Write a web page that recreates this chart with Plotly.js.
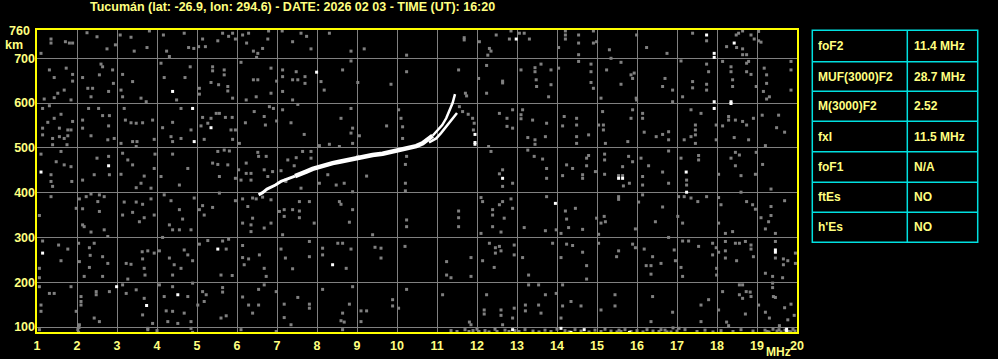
<!DOCTYPE html>
<html>
<head>
<meta charset="utf-8">
<script src="https://cdn.plot.ly/plotly-3.0.1.min.js"></script>
<style>html,body{margin:0;padding:0;background:#000;}#chart{width:998px;height:359px;}</style>
</head>
<body>
<div id="chart"></div>
<script>
// ---------- data ----------
const titleText = "Tucumán (lat: -26.9, lon: 294.6) - DATE: 2026 02 03 - TIME (UT): 16:20";
const freqTicks = [1,2,3,4,5,6,7,8,9,10,11,12,13,14,15,16,17,18,19,20];
const heightTicks = [100,200,300,400,500,600,700];
const tableLabels = ["foF2","MUF(3000)F2","M(3000)F2","fxI","foF1","ftEs","h'Es"];
const tableValues = ["11.4 MHz","28.7 MHz","2.52","11.5 MHz","N/A","NO","NO"];

// ordinary (O) trace: frequency (MHz) / virtual height (km)
const oFreq   = [6.54,6.64,6.75,6.88,6.96,7.10,7.29,7.45,7.56,7.73,7.89,8.06,8.23,8.39,8.56,8.73,8.89,9.14,9.39,9.64,9.89,10.14,10.31,10.48,10.64,10.77,10.89,11.02,11.13,11.23,11.31,11.39,11.45];
const oHeight = [395,400,408,413,417,425,432,437,442,447,453,458,462,466,469,472,475,481,484,487,492,495,499,504,510,518,527,540,551,566,582,600,620];
// extraordinary (X) trace
const xFreq   = [10.80,10.98,11.10,11.21,11.32,11.42,11.50];
const xHeight = [512,521,533,545,556,568,578];

// background echoes (MHz, km)
const noiseGray = [
[1.10,711],[1.35,743],[1.35,734],[1.71,737],[1.81,734],[1.89,734],[2.25,757],[2.50,748],[2.75,721],[2.96,730],[3.08,752],[3.35,747],[3.43,716],[3.75,724],[3.81,761],[4.16,752],[4.24,716],[4.31,704],[4.68,756],[4.79,724],[4.92,722],
[1.31,674],[1.43,657],[1.73,678],[1.89,664],[1.89,649],[1.68,629],[1.52,622],[1.18,609],[1.43,612],[1.85,607],[2.14,657],[2.27,633],[2.39,633],[2.60,687],[2.64,681],[2.56,663],[2.79,626],[2.91,644],[2.89,674],[2.35,614],[3.14,664],[3.39,648],[3.10,629],[3.14,614],[3.60,611],[3.73,603],[4.10,689],[4.18,657],[4.49,607],[4.70,657],[4.83,681],
[1.14,588],[1.31,594],[1.60,575],[1.43,566],[1.27,557],[1.14,544],[1.56,544],[1.77,540],[1.85,540],[1.14,529],[1.39,521],[1.56,525],[1.68,521],[1.77,527],[1.39,507],[1.75,507],[1.89,559],[2.14,562],[2.29,588],[2.54,588],[2.64,572],[2.81,572],[2.14,544],[2.35,527],[2.79,549],[2.77,518],[2.93,521],[3.18,588],[3.21,562],[3.35,556],[3.48,555],[3.64,556],[3.89,562],[3.93,519],[3.10,510],[3.39,514],[3.50,514],[3.48,503],[4.14,545],[4.39,557],[4.35,525],[4.60,588],[4.85,540],[4.39,514],[4.60,521],
[1.10,486],[1.60,492],[1.48,469],[1.68,462],[1.35,440],[1.85,458],[1.87,425],[1.35,425],[1.39,414],[2.14,428],[2.43,440],[2.50,477],[2.79,481],[2.81,440],[3.14,488],[3.27,473],[3.39,462],[3.10,441],[3.68,437],[3.60,421],[3.48,411],[3.93,454],[3.85,410],[3.95,486],[4.10,436],[4.39,486],[4.77,454],[4.56,417],
[1.35,391],[1.06,349],[1.98,365],[2.06,386],[2.23,391],[2.35,397],[2.56,395],[2.68,391],[2.52,380],[2.56,358],[2.14,364],[2.14,328],[2.18,324],[2.35,312],[2.68,317],[2.77,302],[3.18,379],[3.48,379],[3.64,374],[3.85,386],[3.39,356],[3.68,344],[3.56,335],[3.93,350],[3.14,350],[4.18,395],[4.35,382],[4.56,362],[4.64,341],[4.93,388],[4.31,328],[4.39,317],[4.56,317],[4.85,317],[4.14,300],
[1.14,292],[1.54,283],[1.77,274],[1.60,248],[1.06,231],[1.06,210],[2.04,287],[2.31,277],[2.43,287],[2.33,260],[2.64,257],[2.06,246],[2.31,233],[2.77,242],[2.64,213],[2.18,213],[3.23,242],[3.35,240],[3.64,252],[3.77,270],[3.93,265],[3.63,268],[3.68,231],[3.70,216],[3.27,207],[4.06,270],[4.31,254],[4.43,239],[4.68,272],[4.77,261],[4.89,248],[4.60,231],[4.39,216],
[1.06,190],[1.31,175],[1.43,175],[1.85,190],[1.10,149],[1.10,135],[1.98,135],[2.06,105],[2.10,168],[2.10,157],[2.48,179],[2.48,172],[2.81,179],[2.43,120],[2.56,112],[2.10,149],[3.14,194],[3.23,175],[3.48,183],[3.68,164],[3.64,127],[3.89,108],[3.77,97],[4.06,194],[4.39,190],[4.18,168],[4.77,168],[4.23,136],[4.39,135],[4.68,131],[4.89,198],[4.27,112],[4.52,108],[4.85,112],
[1.06,94],[2.02,94],[2.04,88],[3.77,94],[4.85,97],[4.89,88],[4.00,92],[2.05,99],
[5.14,743],[5.04,726],[5.21,726],[5.52,739],[5.64,756],[5.79,749],[5.89,756],[5.96,743],[6.14,752],[6.24,734],[6.29,756],[6.41,716],[6.52,711],[6.64,722],[6.79,761],[6.77,743],[7.13,761],[7.39,737],[7.60,756],[7.74,749],[7.85,721],[8.31,756],[8.85,716],[6.49,702],
[5.39,681],[5.39,672],[5.68,674],[5.68,663],[5.35,646],[5.54,641],[5.77,637],[5.77,627],[5.89,611],[5.06,633],[5.06,620],[6.10,691],[6.41,652],[6.52,652],[6.85,678],[6.99,649],[6.85,622],[6.48,614],[6.23,607],[7.14,674],[7.14,659],[7.48,670],[7.39,652],[7.52,652],[7.70,659],[7.70,644],[7.14,626],[7.39,607],[8.10,648],[8.18,629],[8.64,674],[8.85,694],
[5.14,568],[5.35,566],[5.10,549],[5.27,555],[5.48,577],[5.56,577],[5.71,568],[5.88,568],[5.85,540],[5.89,519],[5.18,519],[6.06,510],[5.96,540],[6.21,556],[6.43,581],[6.68,570],[6.71,551],[6.81,592],[6.91,588],[6.99,560],[7.14,585],[7.35,556],[7.68,530],[7.52,597],[8.06,505],[8.31,508],[8.60,566],[8.85,588],[8.89,544],[8.85,533],[8.56,503],[8.89,510],
[5.52,492],[5.68,495],[5.81,493],[5.39,466],[5.52,463],[5.77,462],[5.56,436],[5.96,432],[6.04,451],[6.23,466],[6.35,443],[6.23,443],[6.52,490],[6.54,481],[6.73,481],[6.68,451],[6.77,436],[6.89,447],[7.10,449],[7.27,473],[7.48,478],[7.64,492],[7.85,492],[7.85,477],[7.43,460],[7.60,410],[8.06,421],[8.27,440],[8.48,417],[8.68,421],[8.89,402],[6.10,428],[6.35,428],[7.22,428],[7.22,425],
[5.14,371],[5.39,367],[5.18,350],[5.06,362],[5.56,399],[5.96,382],[6.14,386],[6.39,388],[6.48,386],[6.64,390],[6.85,384],[6.27,369],[6.39,343],[6.14,332],[6.35,328],[6.35,313],[6.85,332],[6.68,321],[7.06,358],[7.18,362],[7.39,362],[7.56,380],[7.56,359],[7.81,380],[7.18,347],[7.14,306],[7.93,332],[7.56,344],[8.56,380],[8.60,374],[8.81,334],[8.89,362],
[5.06,285],[5.27,293],[5.64,292],[5.79,296],[5.73,274],[6.14,282],[6.14,255],[6.29,252],[6.18,239],[6.56,261],[6.68,231],[6.73,213],[5.88,215],[5.60,216],[7.10,274],[7.21,254],[7.39,230],[7.81,291],[7.81,257],[8.14,276],[8.14,261],[8.52,287],[8.64,287],[8.85,274],[8.73,231],
[5.14,179],[5.23,172],[5.64,188],[5.64,178],[5.18,157],[5.02,149],[5.60,120],[5.73,125],[6.14,167],[6.29,149],[6.54,149],[6.39,131],[6.54,184],[6.68,194],[6.98,179],[7.18,151],[7.52,166],[7.18,121],[7.35,105],[7.81,151],[7.81,142],[8.14,184],[8.64,131],[8.60,114],[8.68,111],[8.81,151],[8.64,94],[8.89,190],[6.10,94],[6.98,90],
[9.18,721],[10.24,707],[11.68,746],[11.68,741],[12.06,737],[12.31,722],[12.35,716],[12.48,752],[12.81,743],[12.85,761],[12.27,707],
[9.02,646],[9.85,642],[10.24,670],[11.54,674],[11.71,622],[11.74,616],[12.04,655],[12.24,684],[12.24,622],[12.64,649],[12.64,645],
[10.04,585],[10.10,566],[9.74,549],[10.14,547],[10.14,521],[9.06,527],[11.56,592],[11.64,581],[11.89,566],[11.93,555],[11.91,540],[11.78,575],[12.56,577],[12.75,566],[12.75,548],[12.89,585],[12.89,544],
[9.02,481],[9.24,437],[10.24,481],[10.21,463],[10.21,421],[10.21,404],[12.35,492],[12.29,503],[12.64,451],[12.64,414],[12.89,421],[12.56,442],
[12.10,389],[12.14,380],[12.39,362],[12.39,350],[12.39,324],[12.56,373],[12.64,380],[12.85,386],[12.89,365],[12.68,343],[12.10,309],[11.54,359],[11.54,344],[11.54,324],[10.24,339],[10.24,324],[9.39,306],[12.60,312],
[9.45,278],[9.60,276],[9.60,254],[10.20,280],[11.24,246],[11.24,216],[11.35,210],[11.85,255],[11.85,213],[12.14,248],[12.31,287],[12.46,277],[12.46,265],[12.56,280],[12.60,270],[12.93,283],[12.93,261],[12.43,233],
[10.24,184],[9.89,161],[9.89,147],[10.04,142],[9.24,136],[9.10,136],[9.10,112],[11.14,172],[11.81,111],[11.85,105],[12.18,138],[12.18,129],[12.24,172],[12.60,138],[12.60,126],[12.64,105],[12.93,142],[12.89,120],
[13.06,756],[13.18,756],[13.31,743],[14.21,761],[14.21,752],[14.21,743],[14.04,724],[14.54,752],[14.54,734],[14.54,708],[14.91,761],[14.91,734],[14.99,737],[15.31,719],[15.35,700],[15.99,752],[16.24,724],[16.75,711],
[13.10,674],[13.45,679],[13.45,670],[13.60,687],[13.48,652],[13.49,637],[13.85,674],[13.85,641],[13.79,614],[14.04,678],[14.54,693],[14.85,687],[14.85,670],[14.85,646],[14.91,633],[15.10,611],[15.24,674],[15.60,691],[15.60,642],[15.85,663],[15.89,655],[15.93,667],[15.99,607],[16.64,637],[16.70,655],[16.89,629],[16.89,603],
[13.10,574],[13.10,565],[13.39,562],[13.14,585],[13.74,555],[13.27,523],[13.45,518],[13.45,508],[13.71,525],[14.18,570],[14.14,549],[14.49,566],[14.49,551],[14.49,525],[14.49,510],[14.79,529],[15.04,551],[15.14,581],[15.16,551],[15.16,540],[15.21,510],[15.85,566],[16.14,577],[16.14,566],[16.18,535],[16.48,525],[16.64,530],[16.79,536],[16.79,518],[15.77,514],[15.89,585],[15.98,611],
[13.27,495],[13.43,481],[13.64,475],[13.74,454],[13.74,432],[14.24,462],[14.14,438],[14.39,454],[14.64,440],[14.64,432],[14.74,477],[14.74,460],[14.79,483],[14.96,447],[15.19,486],[15.19,473],[15.19,441],[15.64,458],[15.66,415],[15.79,481],[15.81,421],[15.89,469],[16.10,477],[16.14,436],[16.14,417],[16.29,460],[16.64,446],[16.79,493],[16.79,421],[15.54,438],[15.64,438],
[13.74,391],[14.21,359],[14.24,341],[14.46,365],[14.29,322],[14.64,318],[14.10,309],[14.99,343],[15.18,347],[15.21,335],[15.10,332],[15.54,391],[15.54,385],[16.14,395],[16.04,379],[16.64,368],[16.46,335],[16.79,300],[15.96,319],[13.18,322],[13.71,315],[13.98,317],
[13.89,287],[14.24,285],[14.39,282],[14.64,267],[15.04,307],[15.04,287],[15.54,270],[15.49,257],[15.89,285],[15.96,277],[16.18,274],[16.39,257],[16.35,237],[16.60,242],[16.93,272],[16.96,248],[14.10,255],[13.14,255],[14.74,237],[14.74,207],[13.29,216],[16.23,237],[16.35,218],
[13.29,194],[13.54,194],[13.71,172],[13.98,175],[14.14,194],[13.21,149],[13.21,136],[13.54,149],[13.60,131],[14.14,147],[14.35,157],[14.60,147],[14.10,120],[15.10,138],[15.45,172],[15.45,147],[16.39,168],[16.35,112],[16.89,133],
[17.74,739],[17.39,756],[18.48,752],[18.54,756],[18.49,724],[18.64,761],[18.64,721],[18.64,708],[18.74,708],[18.24,726],[18.85,752],[18.93,743],[19.04,760],[19.04,739],[19.10,736],[17.10,694],
[17.74,687],[17.79,670],[18.14,693],[18.35,681],[18.35,670],[18.39,652],[18.39,637],[18.74,689],[18.79,693],[18.74,670],[18.85,664],[18.98,637],[19.18,678],[19.24,663],[19.24,644],[19.16,626],[19.31,614],[19.24,609],[19.85,693],[19.85,674],[19.85,629],[17.39,648],[17.39,634],[17.74,642],[17.74,629],[17.14,614],
[17.35,585],[17.60,577],[17.46,551],[17.46,540],[17.46,529],[17.35,525],[17.46,510],[17.18,518],[17.98,551],[17.98,518],[18.14,549],[18.29,570],[18.29,562],[18.46,562],[18.64,559],[18.74,551],[18.91,566],[18.79,518],[19.13,573],[19.54,573],[19.49,545],[19.69,535],[19.21,505],[18.43,523],
[17.10,477],[17.54,483],[17.54,473],[17.24,428],[17.24,417],[18.04,441],[18.35,477],[18.46,490],[18.56,484],[18.46,460],[18.60,438],[18.96,441],[18.98,490],[19.14,463],[19.35,408],[18.60,401],
[17.04,391],[17.18,391],[17.35,388],[17.52,380],[17.74,391],[18.04,389],[18.10,373],[18.74,380],[18.89,373],[18.96,363],[19.35,369],[19.35,349],[19.69,382],[19.10,344],[19.29,335],[19.21,319],[19.46,309],[18.04,332],[18.21,309],[18.39,313],[17.14,332],[17.02,347],
[17.14,292],[17.29,292],[17.54,280],[17.89,287],[17.98,277],[17.89,261],[18.04,267],[18.21,291],[18.21,270],[18.21,254],[18.46,287],[18.56,287],[18.71,291],[18.85,283],[18.85,274],[18.91,257],[18.49,248],[19.46,291],[19.46,254],[19.66,252],[19.77,248],[19.66,239],[19.96,265],[19.96,242],[19.21,220],[19.39,213],[19.64,210],[17.10,233],[17.14,213],[17.99,231],[17.99,216],
[18.56,194],[18.64,194],[18.56,172],[18.73,179],[18.83,178],[18.85,168],[18.64,164],[18.14,179],[18.04,138],[17.60,149],[17.79,161],[19.39,198],[19.39,188],[19.41,168],[19.46,166],[19.21,133],[19.69,143],[19.85,151],[19.93,126],[19.77,116],[18.71,129],[18.24,111],[18.29,103],[17.60,112],[19.31,120],[19.56,103],[19.04,149],
[11.35,92],[11.50,90],[11.70,94],[11.80,90],[11.90,92],[12.00,95],[12.05,90],[12.20,92],[12.30,89],[12.45,95],[12.50,90],[12.70,93],[12.80,90],[12.95,92],[13.05,90],[13.20,94],[13.40,91],[13.55,89],[13.70,93],[13.85,90],[14.00,95],[14.20,92],[14.30,89],[14.45,94],[14.60,91],[14.80,89],[14.95,93],[15.10,90],[15.20,95],[15.35,91],[15.50,89],[15.55,93],[15.60,90],[15.70,94],[15.85,90],[16.00,92],[16.15,89],[16.25,94],[16.40,91],[16.55,90],[16.60,94],[16.70,93],[16.75,89],[16.85,89],[17.00,91],[17.20,94],[17.50,90],[17.70,93],[17.90,89],[18.10,92],[18.40,90],[18.60,94],[18.90,91],[19.20,93],[19.30,89],[19.40,95],[19.50,91],[19.60,89],[19.70,93],[19.80,90],[19.90,95],[19.95,91],[17.05,97],[16.90,98],[19.25,90],[19.55,94],[19.85,89]
];
const noiseWhite = [
[4.39,626],[4.89,588],[4.93,514],[1.10,446],[2.79,460],[1.14,265],[2.99,190],[3.74,148],[4.52,172],[5.35,545],[7.99,669],[5.52,274],[8.39,239],
[12.64,432],[13.96,376],[15.54,432],[15.64,432],[12.98,743],[17.74,752],[17.93,711],[17.93,702],[18.43,734],[17.93,603],[17.93,588],[18.35,603],[18.35,599],
[17.23,446],[17.24,401],[19.46,272],[19.46,267],[12.89,94],[14.10,97],[14.35,88],[14.68,94],[15.81,88],[19.74,91],[19.74,95],[11.95,530],[11.95,512],[11.95,508]
];

// ---------- geometry helpers (pixels -> paper) ----------
const L = 36, R = 798, T = 29, B = 333;
const px = X => (X - L) / (R - L);
const py = Y => (B - Y) / (B - T);

const yellow = '#FFFF00';
const textYellow = '#FFFF80';
const cyan = '#00E0E0';
const fnt = (size, color) => ({family: 'Liberation Sans, Arial, sans-serif', size: size, color: color || textYellow, weight: 'bold'});

const traces = [
  {type: 'scatter', mode: 'markers', x: noiseGray.map(p => p[0]), y: noiseGray.map(p => p[1]),
   marker: {symbol: 'square', size: 3, color: '#808080', line: {width: 0}}, hoverinfo: 'skip'},
  {type: 'scatter', mode: 'markers', x: noiseWhite.map(p => p[0]), y: noiseWhite.map(p => p[1]),
   marker: {symbol: 'square', size: 3, color: '#FFFFFF', line: {width: 0}}, hoverinfo: 'skip'},
  {type: 'scatter', mode: 'lines', x: oFreq.slice(0, 8), y: oHeight.slice(0, 8),
   line: {color: '#FFFFFF', width: 3}, hoverinfo: 'skip'},
  {type: 'scatter', mode: 'lines', x: oFreq.slice(7, 27), y: oHeight.slice(7, 27),
   line: {color: '#FFFFFF', width: 4.5}, hoverinfo: 'skip'},
  {type: 'scatter', mode: 'lines', x: oFreq.slice(26), y: oHeight.slice(26),
   line: {color: '#FFFFFF', width: 2.5}, hoverinfo: 'skip'},
  {type: 'scatter', mode: 'lines', x: xFreq, y: xHeight,
   line: {color: '#FFFFFF', width: 2.5}, hoverinfo: 'skip'}
];

// table
const rowEdges = [30.3, 61.7, 91.3, 121.3, 151.7, 182.3, 212.3, 242.3];
const shapes = [
  {type: 'rect', xref: 'paper', yref: 'paper', x0: 0, x1: 1, y0: 0, y1: 1, line: {color: yellow, width: 2}, layer: 'above'},
  {type: 'rect', xref: 'paper', yref: 'paper', x0: px(812.3), x1: px(977.7), y0: py(242.3), y1: py(30.3), line: {color: cyan, width: 1.5}},
  {type: 'line', xref: 'paper', yref: 'paper', x0: px(907.3), x1: px(907.3), y0: py(242.3), y1: py(30.3), line: {color: cyan, width: 1.5}}
];
for (let i = 1; i < rowEdges.length - 1; i++) {
  shapes.push({type: 'line', xref: 'paper', yref: 'paper', x0: px(812.3), x1: px(977.7), y0: py(rowEdges[i]), y1: py(rowEdges[i]), line: {color: cyan, width: 1.5}});
}
const annotations = [
  {text: '760', xref: 'paper', yref: 'paper', x: px(32), y: py(31), xanchor: 'right', yanchor: 'middle', showarrow: false, font: fnt(12.5)},
  {text: 'km', xref: 'paper', yref: 'paper', x: px(14), y: py(45), xanchor: 'center', yanchor: 'middle', showarrow: false, font: fnt(12.5)},
  {text: 'MHz', xref: 'paper', yref: 'paper', x: px(778), y: py(352), xanchor: 'center', yanchor: 'middle', showarrow: false, font: fnt(12)}
];
tableLabels.forEach((lab, i) => {
  const yc = (rowEdges[i] + rowEdges[i + 1]) / 2;
  annotations.push({text: lab, xref: 'paper', yref: 'paper', x: px(816), y: py(yc), xanchor: 'left', yanchor: 'middle', showarrow: false, font: fnt(12)});
  annotations.push({text: tableValues[i], xref: 'paper', yref: 'paper', x: px(911.5), y: py(yc), xanchor: 'left', yanchor: 'middle', showarrow: false, font: fnt(12)});
});

const layout = {
  width: 998, height: 359,
  margin: {l: L, r: 998 - R, t: T, b: 359 - B, pad: 0},
  paper_bgcolor: '#000000', plot_bgcolor: '#000000',
  showlegend: false,
  title: {text: titleText, font: fnt(12.5), xref: 'container', yref: 'container', x: 90 / 998, xanchor: 'left', y: 1 - 7 / 359, yanchor: 'middle'},
  xaxis: {range: [0.975, 20.025], tickvals: freqTicks, ticktext: freqTicks.map(String), showgrid: true, gridcolor: '#808080', gridwidth: 1,
          zeroline: false, showline: false, ticks: '', tickfont: fnt(12.5), ticklabelstandoff: 3, fixedrange: true},
  yaxis: {range: [86.6, 765.4], tickvals: heightTicks, ticktext: heightTicks.map(String), showgrid: true, gridcolor: '#808080', gridwidth: 1,
          zeroline: false, showline: false, ticks: '', tickfont: fnt(12.5), fixedrange: true},
  shapes: shapes,
  annotations: annotations
};

Plotly.newPlot('chart', traces, layout, {staticPlot: true, displayModeBar: false});
</script>
</body>
</html>
